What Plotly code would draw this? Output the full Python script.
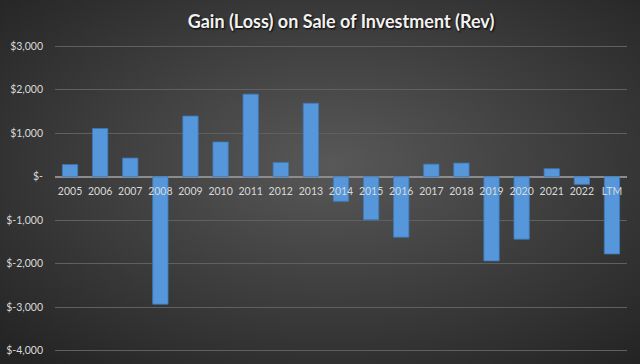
import plotly.graph_objects as go
import base64

categories = ["2005","2006","2007","2008","2009","2010","2011","2012","2013","2014",
              "2015","2016","2017","2018","2019","2020","2021","2022","LTM"]
values = [280, 1110, 430, -2930, 1395, 800, 1900, 330, 1690, -565,
          -990, -1390, 290, 315, -1935, -1435, 185, -175, -1775]
y_tickvals = [3000, 2000, 1000, 0, -1000, -2000, -3000, -4000]
y_ticktext = ["$3,000", "$2,000", "$1,000", "$-", "$-1,000", "$-2,000", "$-3,000", "$-4,000"]
y_range = [-4030, 3030]

W, H = 640, 364
ML, MR, MT, MB = 55, 13, 45, 12
PW, PH = W - ML - MR, H - MT - MB

svg = ('<svg xmlns="http://www.w3.org/2000/svg" width="640" height="364">'
       '<defs><radialGradient id="g" cx="0.52" cy="0.45" r="0.72">'
       '<stop offset="0" stop-color="#585858"/><stop offset="1" stop-color="#242424"/>'
       '</radialGradient></defs><rect width="640" height="364" fill="url(#g)"/></svg>')
bg = "data:image/svg+xml;base64," + base64.b64encode(svg.encode()).decode()

fig = go.Figure(go.Bar(
    x=categories, y=values,
    marker=dict(color="#5597da", line=dict(color="#3d78b8", width=0.8)),
))

zero_frac = (0 - y_range[0]) / (y_range[1] - y_range[0])

fig.update_layout(
    width=W, height=H,
    margin=dict(l=ML, r=MR, t=MT, b=MB, autoexpand=False),
    paper_bgcolor="#333333", plot_bgcolor="rgba(0,0,0,0)",
    bargap=0.49,
    showlegend=False,
    title=dict(text="<b>Gain (Loss) on Sale of Investment (Rev)</b>",
               x=0.5, xref="paper", xanchor="center", y=0.94, yanchor="middle",
               font=dict(family="Lato", size=18, color="#f2f2f2",
                         shadow="1px 1px 2px #000000")),
    images=[dict(source=bg, xref="paper", yref="paper",
                 x=-ML / PW, y=1 + MT / PH, sizex=W / PW, sizey=H / PH,
                 xanchor="left", yanchor="top", sizing="stretch", layer="below")],
    xaxis=dict(anchor="free", position=zero_frac, showgrid=False, showline=False,
               ticks="", tickfont=dict(family="Lato", size=10.5, color="#d9d9d9"),
               ticklabelstandoff=7, automargin=False, fixedrange=True),
    yaxis=dict(range=y_range, tickvals=y_tickvals, ticktext=y_ticktext,
               showgrid=True, gridcolor="#606060", gridwidth=1.2,
               zeroline=True, zerolinecolor="#8c8c8c", zerolinewidth=1.5,
               tickfont=dict(family="Lato", size=10.5, color="#d9d9d9"),
               ticklabelstandoff=11, automargin=False, domain=[0, 1]),
)
fig.write_html("out.html")
